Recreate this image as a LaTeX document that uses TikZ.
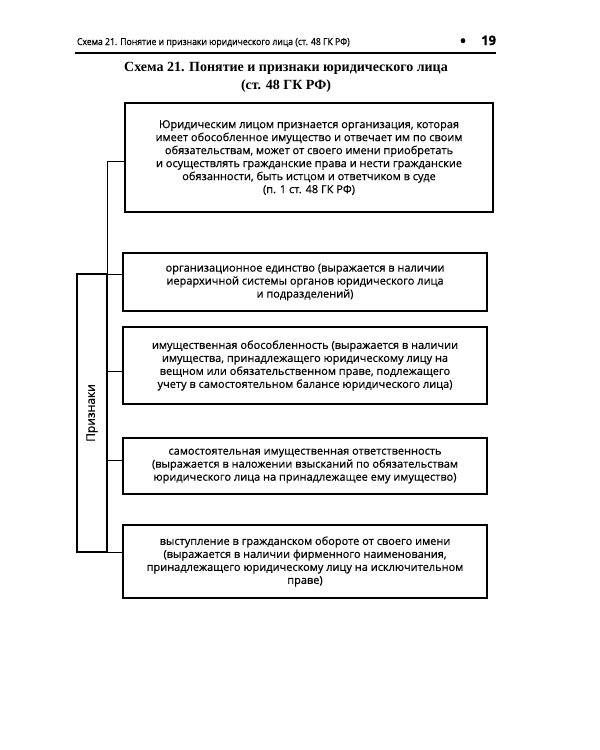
\documentclass[tikz,border=0pt]{standalone}
\usepackage{fontspec}
\setmainfont{Liberation Serif}
\newfontfamily\boxfont[FakeBold=0.5]{Open Sans}
\newfontfamily\headfont[FakeStretch=0.91,FakeBold=0.4]{Open Sans}

\begin{document}
\begin{tikzpicture}[
  x=1pt, y=-1pt,
  every node/.style={inner sep=0pt, outer sep=0pt},
  signbox/.style={draw, line width=1.6pt, align=center,
    font=\boxfont\fontsize{11}{13}\selectfont},
  link/.style={line width=0.7pt},
]
\useasboundingbox (0,0) rectangle (600,750);

% Running head
\node[anchor=base west, font=\headfont\fontsize{9.5}{11}\selectfont] (head) at (77,45)
  {Схема 21. Понятие и признаки юридического лица (ст. 48 ГК РФ)};
\node[anchor=base, font=\boxfont\fontsize{20}{20}\selectfont] (dot) at (463,48) {•};
\node[anchor=base east, font=\boxfont\bfseries\fontsize{13}{13}\selectfont] (page) at (496,45) {19};
\draw[line width=1.2pt] (75,53) -- (496,53);

% Title
\node[align=center, font=\bfseries\fontsize{14}{18}\selectfont] (title) at (286,77)
  {Схема 21. Понятие и признаки юридического лица\\(ст. 48 ГК РФ)};

% Definition box
\node[signbox, minimum width=368pt, minimum height=109pt] (def) at (309,157.5)
  {Юридическим лицом признается организация, которая\\
   имеет обособленное имущество и отвечает им по своим\\
   обязательствам, может от своего имени приобретать\\
   и осуществлять гражданские права и нести гражданские\\
   обязанности, быть истцом и ответчиком в суде\\
   (п. 1 ст. 48 ГК РФ)};

% Signs: name/y centre/height/text
\foreach \nm/\yc/\h/\txt in {
  unity/282/58/{организационное единство (выражается в наличии\\
    иерархичной системы органов юридического лица\\
    и подразделений)},
  property/365.5/77/{имущественная обособленность (выражается в наличии\\
    имущества, принадлежащего юридическому лицу на\\
    вещном или обязательственном праве, подлежащего\\
    учету в самостоятельном балансе юридического лица)},
  liability/466/56/{самостоятельная имущественная ответственность\\
    (выражается в наложении взысканий по обязательствам\\
    юридического лица на принадлежащее ему имущество)},
  ownname/561.5/73/{выступление в гражданском обороте от своего имени\\
    (выражается в наличии фирменного наименования,\\
    принадлежащего юридическому лицу на исключительном\\
    праве)}%
} {
  \node[signbox, minimum width=364pt, minimum height=\h pt] (\nm) at (305,\yc) {\txt};
}

% Vertical "Признаки" box
\node[draw, line width=1.6pt, minimum width=30pt, minimum height=278pt] (signs) at (92,413) {};
\node[rotate=90, font=\boxfont\fontsize{12}{13}\selectfont] (signslab) at (signs.center) {Признаки};

% Connectors
\draw[link] ([yshift=-3.5pt]def.west) -| (signs.north east);
\draw[link] (signs.north east) -- (signs.north east -| unity.west);
\draw[link] ([yshift=-5.5pt]property.west) -- ([yshift=-5.5pt]property.west -| signs.east);
\draw[link] ([yshift=6pt]liability.west) -- ([yshift=6pt]liability.west -| signs.east);
\draw[link] (signs.south east) -- (signs.south east -| ownname.west);

\end{tikzpicture}
\end{document}
